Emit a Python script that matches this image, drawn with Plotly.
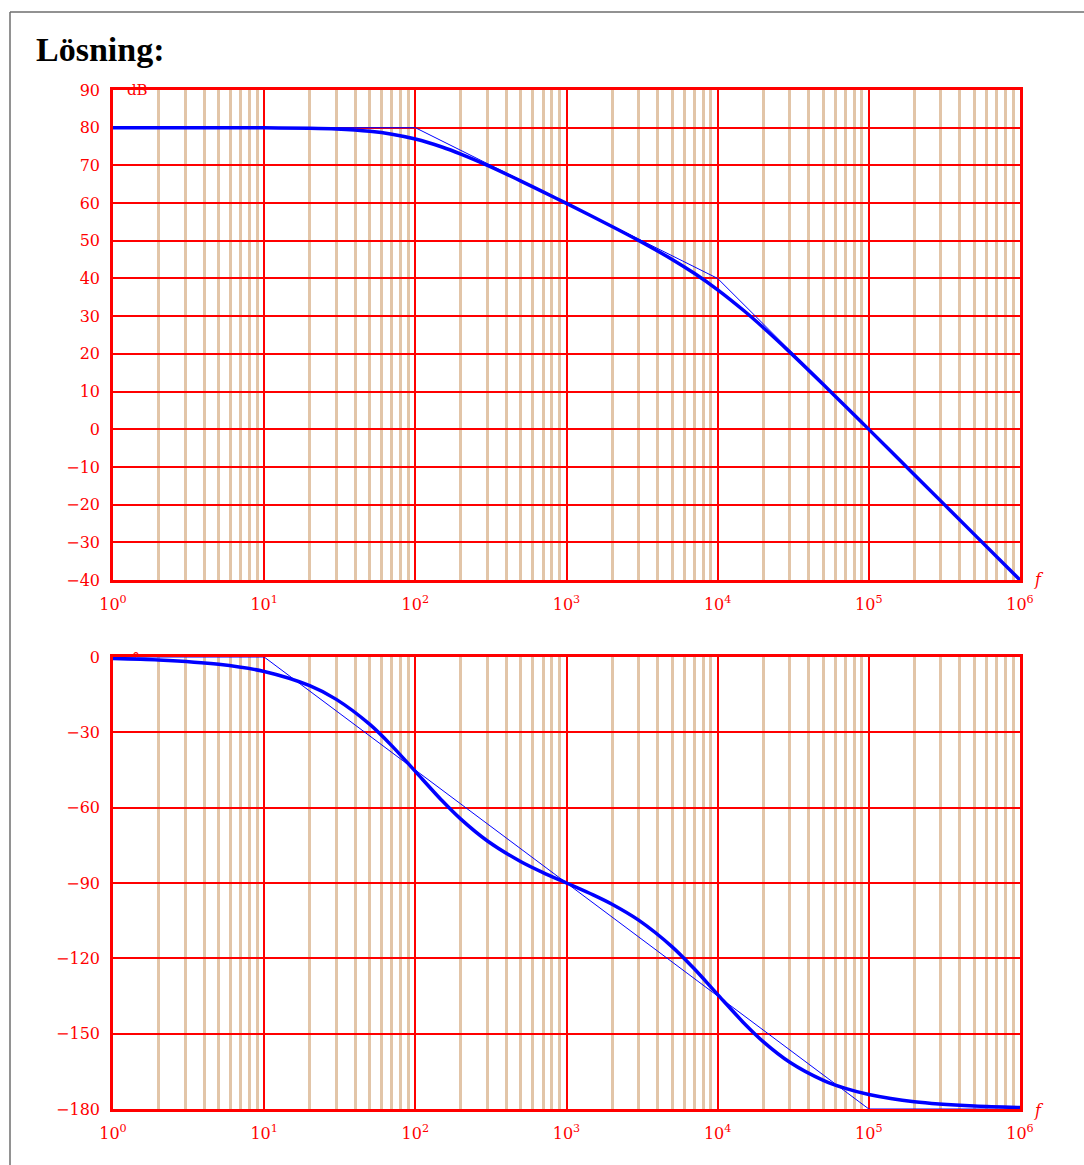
import plotly.graph_objects as go

# ---------------- data ----------------
freq_mag = [1, 10, 20, 30, 50, 70, 100, 150, 200, 300, 500, 700, 1000, 2000, 3000,
            5000, 7000, 1e4, 1.5e4, 2e4, 3e4, 5e4, 7e4, 1e5, 2e5, 5e5, 1e6]
mag_db = [80.0, 79.96, 79.83, 79.63, 79.03, 78.27, 76.99, 74.88, 73.01, 70.0, 65.84,
          62.99, 59.91, 53.80, 50.08, 45.05, 41.37, 36.99, 31.36, 26.99, 20.46,
          11.87, 6.11, -0.04, -12.05, -27.96, -40.0]

freq_phase = [1, 2, 5, 10, 20, 30, 50, 70, 100, 150, 200, 300, 500, 700, 1000, 1500,
              2000, 3000, 5000, 7000, 1e4, 1.5e4, 2e4, 3e4, 5e4, 7e4, 1e5, 2e5, 5e5, 1e6]
phase_deg = [-0.58, -1.16, -2.89, -5.77, -11.42, -16.87, -26.85, -35.39, -45.57,
             -57.17, -64.58, -73.29, -81.55, -85.87, -90.0, -94.72, -98.45, -104.79,
             -115.42, -124.17, -134.43, -145.93, -153.15, -161.37, -168.58, -171.79,
             -174.23, -177.11, -178.84, -179.42]

mag_asym_f = [1, 100, 1e4, 1e6]
mag_asym_db = [80, 80, 40, -40]
phase_asym_f = [1, 10, 1e5, 1e6]
phase_asym_deg = [0, 0, -180, -180]

decade_vals = [1, 10, 100, 1000, 1e4, 1e5, 1e6]
decade_text = ["10<sup>0</sup>", "10<sup>1</sup>", "10<sup>2</sup>", "10<sup>3</sup>",
               "10<sup>4</sup>", "10<sup>5</sup>", "10<sup>6</sup>"]
minor_vals = [m * 10 ** k for k in range(6) for m in range(2, 10)]
mag_tick_vals = [-40, -30, -20, -10, 0, 10, 20, 30, 40, 50, 60, 70, 80, 90]
mag_tick_text = ["\u221240", "\u221230", "\u221220", "\u221210", "0", "10", "20", "30",
                 "40", "50", "60", "70", "80", "90"]
phase_tick_vals = [-180, -150, -120, -90, -60, -30, 0]
phase_tick_text = ["\u2212180", "\u2212150", "\u2212120", "\u221290", "\u221260",
                   "\u221230", "0"]

# ---------------- styling ----------------
W, H = 1084, 1165
RED = "#ff0000"
TAN = "rgb(226,197,168)"
BLUE = "#0000ff"
SERIF = "DejaVu Serif"


def px(x):
    return x / W


def py(y):
    return 1 - y / H


x_dom = [px(113), px(1020)]
top_dom = [py(580), py(90)]
bot_dom = [py(1109), py(657)]

fig = go.Figure()

fig.add_trace(go.Scatter(x=mag_asym_f, y=mag_asym_db, mode="lines",
                         line=dict(color=BLUE, width=1), xaxis="x", yaxis="y",
                         showlegend=False, hoverinfo="skip"))
fig.add_trace(go.Scatter(x=freq_mag, y=mag_db, mode="lines",
                         line=dict(color=BLUE, width=3.5, shape="spline", smoothing=0.8),
                         xaxis="x", yaxis="y", showlegend=False))
fig.add_trace(go.Scatter(x=phase_asym_f, y=phase_asym_deg, mode="lines",
                         line=dict(color=BLUE, width=1), xaxis="x2", yaxis="y2",
                         showlegend=False, hoverinfo="skip"))
fig.add_trace(go.Scatter(x=freq_phase, y=phase_deg, mode="lines",
                         line=dict(color=BLUE, width=3.5, shape="spline", smoothing=0.8),
                         xaxis="x2", yaxis="y2", showlegend=False))

tickfont = dict(family=SERIF, size=16, color=RED)

xcommon = dict(type="log", range=[0, 6], domain=x_dom, automargin=False,
               tickmode="array", tickvals=decade_vals, ticktext=decade_text,
               showgrid=True, gridcolor=RED, gridwidth=2,
               minor=dict(tickmode="array", tickvals=minor_vals, showgrid=True,
                          gridcolor=TAN, gridwidth=2.5, ticks=""),
               showline=True, linecolor=RED, linewidth=2.5, mirror=True,
               ticks="", tickfont=tickfont, ticklabelstandoff=8, zeroline=False)

ycommon = dict(showgrid=True, gridcolor=RED, gridwidth=2, automargin=False,
               showline=True, linecolor=RED, linewidth=2.5, mirror=True,
               ticks="", tickfont=tickfont, ticklabelstandoff=7, zeroline=False,
               tickmode="array")

fig.update_layout(
    width=W, height=H, autosize=False,
    margin=dict(l=0, r=0, t=0, b=0, pad=0),
    paper_bgcolor="white", plot_bgcolor="white",
    xaxis=dict(anchor="y", **xcommon),
    yaxis=dict(anchor="x", domain=top_dom, range=[-40, 90],
               tickvals=mag_tick_vals, ticktext=mag_tick_text, **ycommon),
    xaxis2=dict(anchor="y2", **xcommon),
    yaxis2=dict(anchor="x2", domain=bot_dom, range=[-180, 0],
                tickvals=phase_tick_vals, ticktext=phase_tick_text, **ycommon),
    showlegend=False,
)

anns = [
    dict(x=px(34), y=py(49), xanchor="left", yanchor="middle", text="<b>Lösning:</b>",
         font=dict(family="Liberation Serif", size=34, color="black")),
    dict(x=px(137), y=py(90), xanchor="center", yanchor="middle", text="dB",
         font=dict(family=SERIF, size=15, color=RED)),
    dict(x=px(136), y=py(659), xanchor="center", yanchor="middle", text="°",
         font=dict(family=SERIF, size=16, color=RED)),
    dict(x=px(1039), y=py(579), xanchor="center", yanchor="middle", text="<i>f</i>",
         font=dict(family=SERIF, size=16, color=RED)),
    dict(x=px(1039), y=py(1110), xanchor="center", yanchor="middle", text="<i>f</i>",
         font=dict(family=SERIF, size=16, color=RED)),
]
for a in anns:
    a.update(xref="paper", yref="paper", showarrow=False)
fig.update_layout(annotations=anns)

fig.update_layout(shapes=[
    dict(type="line", xref="paper", yref="paper", x0=px(10), x1=px(10), y0=0, y1=py(12),
         line=dict(color="#6e6e6e", width=1.5)),
    dict(type="line", xref="paper", yref="paper", x0=px(10), x1=1, y0=py(12), y1=py(12),
         line=dict(color="#6e6e6e", width=1.5)),
])

fig.write_html(
    "out.html",
    config={"displayModeBar": False, "responsive": False},
    post_script=("document.documentElement.style.margin='0';"
                 "document.body.style.margin='0';"
                 "document.body.style.padding='0';"
                 "document.documentElement.style.overflow='hidden';"
                 "document.body.style.overflow='hidden';"),
)
